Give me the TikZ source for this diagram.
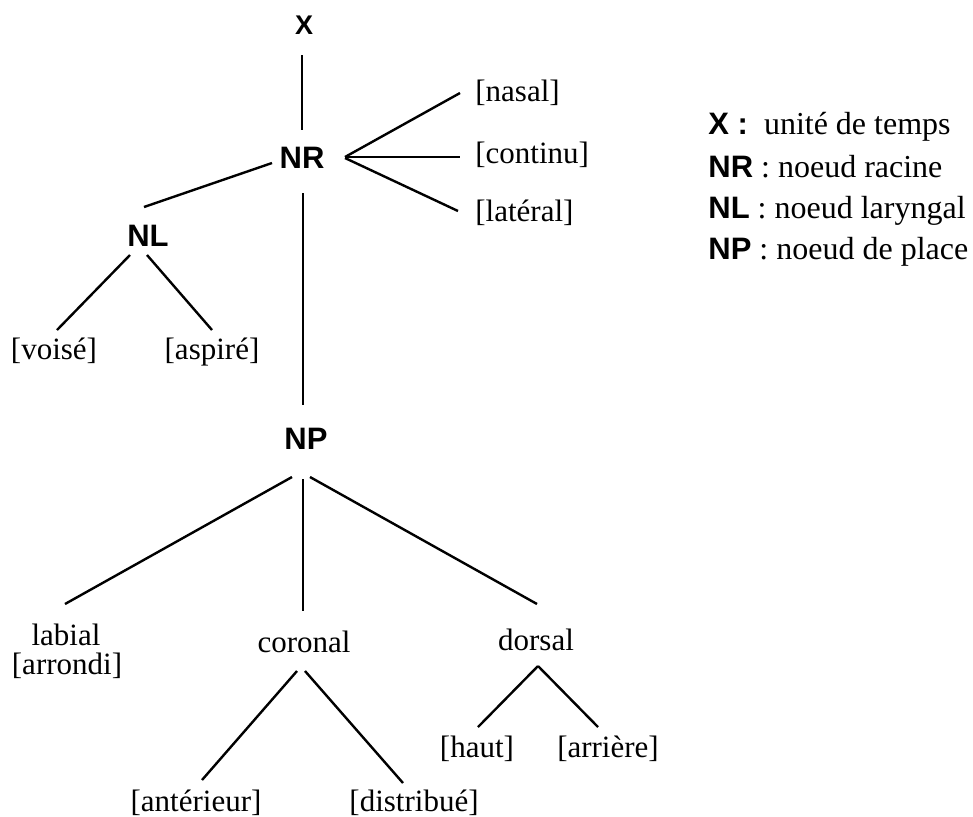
\documentclass[tikz,border=0pt]{standalone}
\usepackage{fontspec}
\setmainfont{Liberation Serif}
\newfontfamily\hvfont{Liberation Sans}
\begin{document}
\begin{tikzpicture}[x=0.5pt,y=-0.5pt,
  bnode/.style={inner sep=0pt,anchor=base,font=\hvfont\bfseries\fontsize{15.5pt}{18pt}\selectfont},
  fnode/.style={inner sep=0pt,anchor=base,font=\fontsize{15.5pt}{18pt}\selectfont},
  lnode/.style={inner sep=0pt,anchor=base west,font=\fontsize{15.5pt}{18pt}\selectfont},
  legend/.style={inner sep=0pt,anchor=base west,font=\fontsize{16pt}{19pt}\selectfont},
  edge/.style={line width=1.2pt,line cap=butt}]
\useasboundingbox (0,0) rectangle (973,816);
% nodes
\node[bnode,font=\hvfont\bfseries\fontsize{13.5pt}{16pt}\selectfont] (X) at (304,34) {X};
\node[bnode] (NR) at (302,168) {NR};
\node[bnode] (NL) at (148,246) {NL};
\node[bnode] (NP) at (306,449) {NP};
\node[lnode] (nasal)   at (475,101) {[nasal]};
\node[lnode] (continu) at (475,163) {[continu]};
\node[lnode] (lateral) at (475,221) {[latéral]};
\node[fnode] (voise)  at (54,359)  {[voisé]};
\node[fnode] (aspire) at (212,359) {[aspiré]};
\node[fnode] (labial) at (66,645)  {labial};
\node[fnode] (arrondi) at (67,674) {[arrondi]};
\node[fnode] (coronal) at (304,652) {coronal};
\node[fnode] (dorsal)  at (536,650) {dorsal};
\node[fnode] (anterieur) at (196,811) {[antérieur]};
\node[fnode] (distribue) at (414,811) {[distribué]};
\node[fnode] (haut)    at (477,757) {[haut]};
\node[fnode] (arriere) at (608,757) {[arrière]};
% legend
\node[legend] (lx)  at (708,134) {{\hvfont\bfseries\fontsize{15.5pt}{18pt}\selectfont X :}\ \ unité de temps};
\node[legend] (lnr) at (708,177) {{\hvfont\bfseries\fontsize{15.5pt}{18pt}\selectfont NR} : noeud racine};
\node[legend] (lnl) at (708,218) {{\hvfont\bfseries\fontsize{15.5pt}{18pt}\selectfont NL} : noeud laryngal};
\node[legend] (lnp) at (708,259) {{\hvfont\bfseries\fontsize{15.5pt}{18pt}\selectfont NP} : noeud de place};
% connectors
\draw[edge] ([shift={(-2,21)}]X.base) -- ([shift={(0,-38)}]NR.base);
\draw[edge] ([shift={(-30,-5)}]NR.base) -- ([shift={(-4,-39)}]NL.base);
\draw[edge] ([shift={(43,-11)}]NR.base) -- ([shift={(-15,-8)}]nasal.base west);
\draw[edge] ([shift={(43,-11)}]NR.base) -- ([shift={(-15,-6)}]continu.base west);
\draw[edge] ([shift={(43,-10)}]NR.base) -- ([shift={(-17,-10)}]lateral.base west);
\draw[edge] ([shift={(-18,9)}]NL.base) -- ([shift={(3,-29)}]voise.base);
\draw[edge] ([shift={(-1,9)}]NL.base) -- ([shift={(0,-29)}]aspire.base);
\draw[edge] ([shift={(1,25)}]NR.base) -- ([shift={(-3,-44)}]NP.base);
\draw[edge] ([shift={(-14,28)}]NP.base) -- ([shift={(-1,-41)}]labial.base);
\draw[edge] ([shift={(-3,30)}]NP.base) -- ([shift={(-1,-41)}]coronal.base);
\draw[edge] ([shift={(4,28)}]NP.base) -- ([shift={(1,-46)}]dorsal.base);
\draw[edge] ([shift={(-7,19)}]coronal.base) -- ([shift={(6,-31)}]anterieur.base);
\draw[edge] ([shift={(1,19)}]coronal.base) -- ([shift={(-11,-28)}]distribue.base);
\draw[edge] ([shift={(2,16)}]dorsal.base) -- ([shift={(1,-30)}]haut.base);
\draw[edge] ([shift={(2,16)}]dorsal.base) -- ([shift={(-10,-30)}]arriere.base);
\end{tikzpicture}
\end{document}
